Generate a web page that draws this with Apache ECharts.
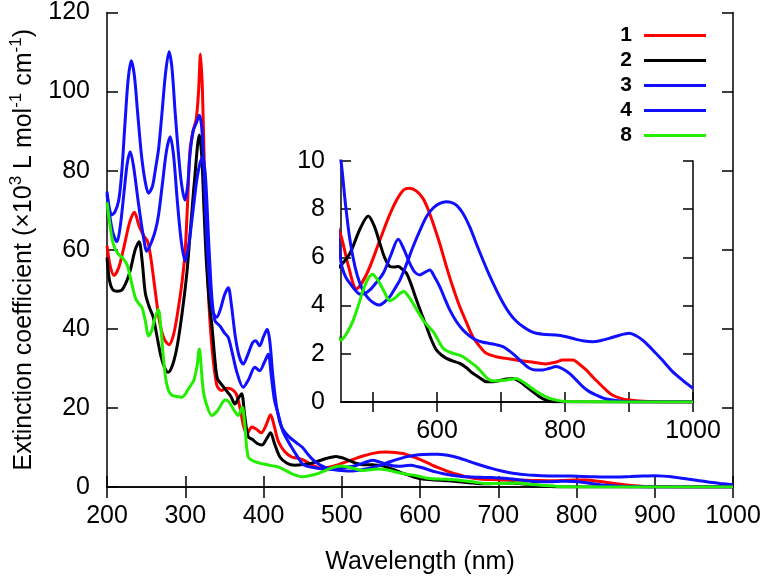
<!DOCTYPE html>
<html>
<head>
<meta charset="utf-8">
<script src="https://cdn.jsdelivr.net/npm/echarts@6/dist/echarts.min.js"></script>
<style>
  html, body { margin: 0; padding: 0; background: #fff; }
  #chart { width: 768px; height: 580px; }
</style>
</head>
<body>
<div id="chart"></div>
<script>
// compound names in legend order
const names = ['1', '2', '3', '4', '8'];
const colors = ['#ff0000', '#000000', '#1010ff', '#1010ff', '#22ee00'];

// [wavelength nm, extinction coefficient x10^3]
const s1 = [[200,61],[204,56],[209,53.5],[215,55.5],[222,61],[229,67],[235,69.5],[241,66],[247,63.5],[252,62],[256,58],[261,50.5],[267,42],[273,37.5],[279,36],[285,38.5],[291,45],[296,52],[300,60],[303,72],[306,85],[310,90],[314,93],[317,100],[319.5,109.5],[322,100],[325,76],[328,56],[333,38],[340,26],[346,24.4],[353,25],[359,24.8],[365,23.6],[370,20],[375,15],[379,13.5],[385,15.2],[391,14.6],[397,13.7],[403,15.5],[409,18.3],[413,16],[419,11.5],[427,9],[436,7.6],[443,7.3],[450,6.9],[462,5.6],[474,4.7],[490,5.3],[510.8,6.72],[525,7.7],[537,8.38],[548,8.8],[557.5,8.87],[568,8.75],[578,8.45],[586,8.0],[594,7.41],[604,6.6],[614.7,5.62],[625,4.75],[635.5,3.96],[646,3.3],[656,2.71],[667,2.3],[677,2.02],[692,1.88],[708,1.81],[726,1.73],[744.5,1.67],[770,1.58],[785,1.65],[796.5,1.74],[812,1.74],[822,1.58],[833,1.33],[843,1.05],[853.6,0.77],[864,0.5],[874,0.29],[887,0.15],[900,0.08],[930,0.02],[1000,0]];

const s2 = [[200,58],[203,52.5],[207,50],[213,49.5],[219,49.8],[225,52],[230,55],[236,60],[241,62],[245,57],[249,49],[254,45.5],[259,43],[264,38],[269,33],[274,30],[278,29],[284,31],[290,36],[296,44],[302,54],[307,66],[312,78],[318,89],[321,84],[324,70],[327,57],[331,46],[334,41],[338,32],[341,27.5],[346,26],[352,24.5],[358,23],[363.5,21],[368,22.5],[372,23.6],[376,18],[380.5,12.7],[386,12],[392,11],[398,10.6],[404,12.2],[409,13.7],[414,11],[421,7.6],[430,6],[440,5.5],[450,5.68],[464,6.17],[480,7.2],[492.6,7.72],[502,7.3],[510.8,6.58],[518,6.0],[526.4,5.62],[533,5.6],[539.4,5.62],[546,5.5],[552.3,5.34],[560,4.85],[568,4.23],[576,3.65],[583.5,3.13],[591,2.6],[599,2.16],[607,1.95],[614.7,1.81],[625,1.7],[635.5,1.6],[646,1.42],[656,1.19],[667,1.0],[677,0.84],[688,0.84],[698,0.89],[709,0.95],[718.6,0.98],[729,0.85],[739.4,0.64],[750,0.42],[760,0.22],[770,0.08],[781,0.01],[1000,0]];

const s3 = [[200,74.7],[203,70.5],[206,68.8],[210,69.5],[215,72.5],[219,80],[223,92],[227,103],[231,107.8],[235,104],[239,95],[244,84],[249,77],[253,74.3],[258,76],[262,80.5],[266,85.6],[270,94],[275,105],[279.4,110.1],[283,106],[287,95],[291,85],[295,77],[299.5,72.6],[303,76],[306,84],[310,90],[314,92],[318,94],[321,91],[324,80],[327,65],[331,52],[335,44.5],[340,42.9],[345,45],[350,48.5],[355,50.4],[359,46],[364,38],[369,33],[374,31.1],[380,33.5],[386,36.5],[390,37],[395,35.7],[400,38],[404.7,39.9],[408,37],[412,28],[417,20],[423,15.2],[432,12.8],[442,11.2],[450,10],[457,8.2],[464,6.72],[472,5.6],[479.6,4.92],[487,4.5],[495.2,4.23],[503,4.08],[509.7,4.02],[518,4.15],[526.4,4.37],[534,4.7],[542,5.06],[552,5.7],[562.7,6.45],[573,7.1],[583.5,7.69],[594,8.05],[604.3,8.24],[614.7,8.31],[622,8.28],[630.3,8.17],[640,7.85],[651,7.28],[661,6.6],[671.8,5.89],[682,5.25],[692.6,4.65],[703,4.12],[713.4,3.68],[724,3.35],[734.2,3.13],[745,2.95],[755,2.85],[770,2.8],[786,2.78],[800,2.72],[817.3,2.6],[830,2.53],[843.2,2.5],[856,2.55],[869.2,2.64],[885,2.77],[900.4,2.85],[911,2.75],[921.2,2.57],[932,2.3],[942,2.02],[955,1.65],[968,1.26],[984,0.9],[1000,0.57]];

const s4 = [[200,74],[204,68],[208,64],[212.7,62],[217,66],[222,75],[226,82],[229.7,84.8],[234,81],[240,72],[246,64],[251,59.6],[257,62],[262,65],[266,69],[271,77],[276,85],[280.7,88.6],[285,84],[290,72],[295,62],[300,57.1],[305,62],[310,70],[315,78],[319,82],[322.5,83.5],[326,78],[330,62],[334,48],[338,42],[344,40.8],[350,39],[355,37.8],[360,34],[366,29],[374,25.2],[381,27.2],[389,30.3],[395,29.4],[401,31.5],[406,33.6],[410,28],[414,22],[418.7,18.5],[425,14],[435.7,10.1],[443,7.8],[450,5.8],[457,5.2],[464,4.92],[472,4.65],[479.6,4.48],[487,4.5],[495.2,4.65],[505,4.95],[516,5.34],[528,6.1],[539.4,6.75],[548,6.35],[557.5,5.75],[565,5.4],[573,5.27],[581,5.38],[588.7,5.48],[596,5.2],[604.3,4.79],[612,4.3],[619.9,3.82],[630,3.35],[640.6,2.99],[651,2.74],[661.4,2.57],[672,2.48],[682,2.43],[692,2.38],[703,2.3],[713,2.12],[723.8,1.88],[734,1.62],[744.5,1.4],[755,1.33],[765.3,1.33],[776,1.4],[786,1.47],[796,1.38],[806.9,1.19],[817,0.93],[827.7,0.64],[838,0.43],[848.4,0.29],[861,0.15],[874.4,0.08],[900,0],[1000,0]];

const s8 = [[200,72],[204,66],[208,61.5],[214,59],[221,57.7],[226,56],[231,52],[236,48],[240,46.5],[244.6,45.4],[249,42],[253,38.2],[257,39.5],[261,42.5],[265.5,44.9],[269,40],[272,32.8],[275,27.5],[278.6,24.4],[283,23.2],[289,22.9],[295.5,22.7],[300,23.5],[304,24.8],[308,26],[311,27],[315,30.5],[318,34.9],[320.5,30],[323,24.4],[327,21],[333.8,18.1],[340,19],[345,20.5],[350.7,22],[356,21.5],[362,19.5],[367.7,18.1],[372.8,20.2],[376,16],[380.5,7.6],[389,6.4],[400,5.8],[410,5.4],[418.7,5.1],[427,4.3],[435.7,3.4],[444,2.8],[450,2.57],[460,2.9],[469.2,3.4],[477,4.0],[484.8,4.65],[492,5.1],[499.4,5.3],[505,5.15],[510.8,4.92],[518,4.55],[526.4,4.2],[531,4.25],[536.8,4.37],[542,4.5],[548.2,4.58],[555,4.4],[562.7,4.09],[570,3.75],[578.3,3.4],[586,3.15],[594,2.92],[601,2.6],[609.5,2.23],[617,2.1],[625,2.02],[633,1.96],[640.6,1.88],[650,1.7],[661.4,1.47],[671,1.2],[682,0.91],[692,0.87],[703,0.89],[713,0.93],[723.8,0.98],[734,0.84],[744.5,0.64],[755,0.45],[765.3,0.29],[776,0.15],[786,0.08],[800,0.02],[1000,0]];

const allData = [s1, s2, s3, s4, s8];

// inset ticks and labels
const insetTicks = [500, 600, 700, 800, 900, 1000];
const insetLabels = [600, 800, 1000];

const FONT = 'Liberation Sans';
const axisLine = { show: true, lineStyle: { color: '#000', width: 1.5 } };
const tickIn = (len) => ({ show: true, inside: true, length: len, lineStyle: { color: '#000', width: 1.5 } });
const lbl = (margin) => ({ fontFamily: FONT, fontSize: 25, color: '#000', margin: margin, formatter: v => String(v) });

const chart = echarts.init(document.getElementById('chart'));

const mainSeries = names.map((n, i) => ({
  name: n, type: 'line', xAxisIndex: 0, yAxisIndex: 0,
  data: allData[i], showSymbol: false, symbol: 'none', smooth: 0.3,
  color: colors[i], lineStyle: { color: colors[i], width: 3 }, z: 2 + i
}));
const insetSeries = names.map((n, i) => ({
  name: n, type: 'line', xAxisIndex: 2, yAxisIndex: 2,
  data: allData[i], showSymbol: false, symbol: 'none', smooth: 0.3, clip: true,
  color: colors[i], lineStyle: { color: colors[i], width: 3 }, z: 2 + i
}));

const option = {
  animation: false,
  backgroundColor: '#fff',
  grid: [
    { left: 105, top: 10, width: 628, height: 477 },
    { left: 341, top: 161, width: 352, height: 241 }
  ],
  legend: {
    data: names,
    orient: 'vertical',
    right: 57, top: 18,
    align: 'right',
    icon: 'rect',
    itemWidth: 62, itemHeight: 3, itemGap: 0,
    textStyle: { fontFamily: FONT, fontSize: 21, fontWeight: 'bold', color: '#000', lineHeight: 25, padding: [0, 7, 0, 0] }
  },
  xAxis: [
    {
      type: 'value', gridIndex: 0, min: 200, max: 1000, interval: 100,
      axisLine: axisLine, axisTick: tickIn(11), splitLine: { show: false },
      axisLabel: lbl(17),
      name: 'Wavelength (nm)', nameLocation: 'middle', nameGap: 63,
      nameTextStyle: { fontFamily: FONT, fontSize: 25, color: '#000' }
    },
    {
      type: 'value', gridIndex: 0, position: 'top', min: 200, max: 1000, interval: 100,
      axisLine: axisLine, axisTick: tickIn(11), splitLine: { show: false }, axisLabel: { show: false }
    },
    {
      type: 'value', gridIndex: 1, min: 450, max: 1000, interval: 50,
      axisLine: axisLine, splitLine: { show: false },
      axisTick: Object.assign(tickIn(10), { customValues: insetTicks }),
      axisLabel: Object.assign(lbl(17), { customValues: insetLabels })
    },
    {
      type: 'value', gridIndex: 1, position: 'top', min: 450, max: 1000, interval: 50,
      axisLine: axisLine, splitLine: { show: false },
      axisTick: Object.assign(tickIn(10), { customValues: insetTicks }),
      axisLabel: { show: false }
    }
  ],
  yAxis: [
    {
      type: 'value', gridIndex: 0, min: 0, max: 120, interval: 20,
      axisLine: axisLine, axisTick: tickIn(11), splitLine: { show: false },
      axisLabel: lbl(17),
      name: '{a|Extinction coefficient (×10}{s|3}{a| L mol}{s|-1}{a| cm}{s|-1}{a|)}',
      nameLocation: 'middle', nameRotate: 90, nameGap: 66,
      nameTextStyle: {
        rich: {
          a: { fontFamily: FONT, fontSize: 25, color: '#000' },
          s: { fontFamily: FONT, fontSize: 17, color: '#000', padding: [0, 0, 16, 0] }
        }
      }
    },
    {
      type: 'value', gridIndex: 0, position: 'right', min: 0, max: 120, interval: 20,
      axisLine: axisLine, axisTick: tickIn(11), splitLine: { show: false }, axisLabel: { show: false }
    },
    {
      type: 'value', gridIndex: 1, min: 0, max: 10, interval: 2,
      axisLine: axisLine, axisTick: tickIn(10), splitLine: { show: false },
      axisLabel: lbl(16)
    },
    {
      type: 'value', gridIndex: 1, position: 'right', min: 0, max: 10, interval: 2,
      axisLine: axisLine, axisTick: tickIn(10), splitLine: { show: false }, axisLabel: { show: false }
    }
  ],
  series: mainSeries.concat(insetSeries)
};

chart.setOption(option);
</script>
</body>
</html>
